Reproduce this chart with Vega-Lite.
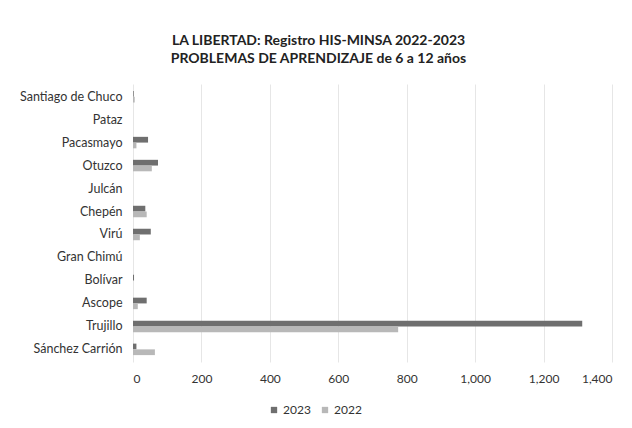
{
  "$schema": "https://vega.github.io/schema/vega-lite/v6.json",
  "width": 479,
  "height": 278,
  "autosize": {"type": "none"},
  "padding": {"left": 133, "top": 84, "right": 20, "bottom": 66},
  "background": "white",
  "title": {
    "text": ["LA LIBERTAD: Registro HIS-MINSA 2022-2023", "PROBLEMAS DE APRENDIZAJE de 6 a 12 años"],
    "font": "Lato",
    "fontSize": 14,
    "fontWeight": "bold",
    "color": "#222222",
    "anchor": "middle",
    "lineHeight": 18,
    "offset": 18,
    "dx": -54
  },
  "data": {
    "values": [
      {"provincia": "Santiago de Chuco", "anio": "2023", "casos": 2},
      {"provincia": "Santiago de Chuco", "anio": "2022", "casos": 5},
      {"provincia": "Pataz", "anio": "2023", "casos": 0},
      {"provincia": "Pataz", "anio": "2022", "casos": 0},
      {"provincia": "Pacasmayo", "anio": "2023", "casos": 44},
      {"provincia": "Pacasmayo", "anio": "2022", "casos": 10},
      {"provincia": "Otuzco", "anio": "2023", "casos": 73},
      {"provincia": "Otuzco", "anio": "2022", "casos": 55},
      {"provincia": "Julcán", "anio": "2023", "casos": 0},
      {"provincia": "Julcán", "anio": "2022", "casos": 0},
      {"provincia": "Chepén", "anio": "2023", "casos": 36},
      {"provincia": "Chepén", "anio": "2022", "casos": 40},
      {"provincia": "Virú", "anio": "2023", "casos": 52},
      {"provincia": "Virú", "anio": "2022", "casos": 20},
      {"provincia": "Gran Chimú", "anio": "2023", "casos": 0},
      {"provincia": "Gran Chimú", "anio": "2022", "casos": 0},
      {"provincia": "Bolívar", "anio": "2023", "casos": 3},
      {"provincia": "Bolívar", "anio": "2022", "casos": 0},
      {"provincia": "Ascope", "anio": "2023", "casos": 40},
      {"provincia": "Ascope", "anio": "2022", "casos": 14},
      {"provincia": "Trujillo", "anio": "2023", "casos": 1313},
      {"provincia": "Trujillo", "anio": "2022", "casos": 775},
      {"provincia": "Sánchez Carrión", "anio": "2023", "casos": 10},
      {"provincia": "Sánchez Carrión", "anio": "2022", "casos": 64}
    ]
  },
  "mark": {"type": "bar"},
  "encoding": {
    "y": {
      "field": "provincia",
      "type": "nominal",
      "sort": ["Santiago de Chuco", "Pataz", "Pacasmayo", "Otuzco", "Julcán", "Chepén", "Virú", "Gran Chimú", "Bolívar", "Ascope", "Trujillo", "Sánchez Carrión"],
      "scale": {"paddingInner": 0.5, "paddingOuter": 0.3},
      "axis": {
        "title": null,
        "domain": false,
        "ticks": false,
        "grid": false,
        "labelFont": "Lato",
        "labelFontSize": 12.5,
        "labelColor": "#333333",
        "labelPadding": 11
      }
    },
    "yOffset": {"field": "anio", "type": "nominal", "sort": ["2023", "2022"]},
    "x": {
      "field": "casos",
      "type": "quantitative",
      "scale": {"domain": [0, 1400]},
      "axis": {
        "title": null,
        "values": [0, 200, 400, 600, 800, 1000, 1200, 1400],
        "format": ",d",
        "domain": false,
        "ticks": false,
        "grid": true,
        "gridColor": "#e6e6e6",
        "labelFont": "Lato",
        "labelFontSize": 12,
        "labelColor": "#333333",
        "labelPadding": 11
      }
    },
    "color": {
      "field": "anio",
      "type": "nominal",
      "sort": ["2023", "2022"],
      "scale": {"domain": ["2023", "2022"], "range": ["#6f6f6f", "#b8b8b8"]},
      "legend": {
        "title": null,
        "orient": "none",
        "legendX": 135,
        "legendY": 320,
        "direction": "horizontal",
        "symbolType": "square",
        "symbolSize": 40,
        "labelFont": "Lato",
        "labelFontSize": 12,
        "labelColor": "#333333",
        "labelOffset": 3,
        "columnPadding": 8
      }
    }
  },
  "config": {
    "view": {"stroke": null}
  }
}
